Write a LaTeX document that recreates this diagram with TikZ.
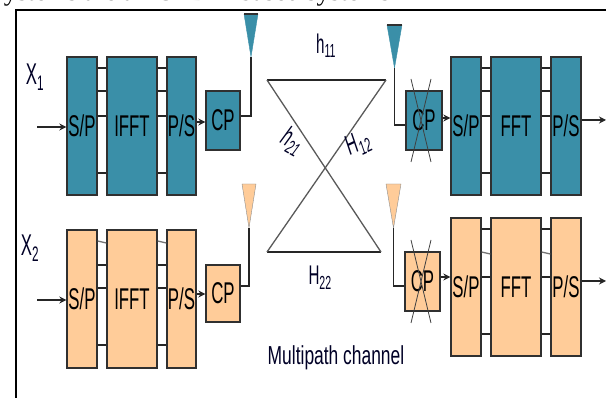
\documentclass[tikz,border=0pt]{standalone}
\usepackage{fontspec}
\setmainfont{Liberation Sans}
\newfontfamily\capfont{Liberation Serif}
\usetikzlibrary{arrows.meta}
\definecolor{tealfill}{HTML}{3A8FA8}
\definecolor{peachfill}{HTML}{FFCC99}
\definecolor{inkline}{HTML}{303030}
\newcommand{\slim}[1]{\scalebox{0.56}[1]{#1}}
\tikzset{
  block/.style={draw=inkline, line width=1.3pt, inner sep=0pt, font=\fontsize{30}{30}\selectfont},
  teal/.style={block, fill=tealfill},
  peach/.style={block, fill=peachfill},
  tall/.style={minimum height=138pt},
  cpbox/.style={minimum width=34pt},
  label/.style={inner sep=0pt, text=black!85!blue, font=\fontsize{30}{30}\selectfont},
  wire/.style={draw=black!85, line width=1.3pt},
  flow/.style={wire, -{Stealth[length=7pt,width=7pt]}},
  cross/.style={draw=black!75, line width=0.8pt},
  path link/.style={draw=black!65, line width=1.3pt}
}
\begin{document}
\begin{tikzpicture}[x=1pt, y=-1pt]
  \useasboundingbox (0,0) rectangle (606,398);
  \clip (0,0) rectangle (606,398);
  \node[anchor=base west, inner sep=0pt, font=\capfont\fontsize{26.5}{26.5}\selectfont] (caption) at (-11,1) {Systems are all OFDM based systems};
  \draw[line width=1.6pt] (16,398) -- (16,10) -- (606,10);

  % transmitter, first branch
  \node[teal, tall, minimum width=30pt] (sp1) at (82,126) {\slim{S/P}};
  \node[teal, tall, minimum width=50pt] (ifft1) at (132,126) {\slim{IFFT}};
  \node[teal, tall, minimum width=29pt] (ps1) at (181.5,126) {\slim{P/S}};
  \node[teal, cpbox, minimum height=59pt] (cp1) at (223,120.5) {\slim{CP}};
  % transmitter, second branch
  \node[peach, tall, minimum width=30pt] (sp2) at (82,299) {\slim{S/P}};
  \node[peach, tall, minimum width=50pt] (ifft2) at (132,299) {\slim{IFFT}};
  \node[peach, tall, minimum width=29pt] (ps2) at (181.5,299) {\slim{P/S}};
  \node[peach, cpbox, minimum height=57pt] (cp2) at (223,293.5) {\slim{CP}};
  % receiver, first branch
  \node[teal, cpbox, minimum width=36pt, minimum height=59pt] (cp3) at (424,120.5) {\slim{CP}};
  \node[teal, tall, minimum width=30pt] (sp3) at (466,126) {\slim{S/P}};
  \node[teal, tall, minimum width=50pt] (fft3) at (516,126) {\slim{FFT}};
  \node[teal, tall, minimum width=30pt] (ps3) at (566,126) {\slim{P/S}};
  % receiver, second branch
  \node[peach, cpbox, minimum width=35pt, minimum height=59pt] (cp4) at (422.5,281.5) {\slim{CP}};
  \node[peach, tall, minimum width=30pt] (sp4) at (466,287) {\slim{S/P}};
  \node[peach, tall, minimum width=50pt] (fft4) at (516,287) {\slim{FFT}};
  \node[peach, tall, minimum width=30pt] (ps4) at (566,287) {\slim{P/S}};

  % parallel lines between the blocks
  \foreach \y in {68,91,116,173} {
    \draw[wire] (sp1.east |- 0,\y) -- (ifft1.west |- 0,\y);
    \draw[wire] (ifft1.east |- 0,\y) -- (ps1.west |- 0,\y);
    \draw[wire] (sp3.east |- 0,\y) -- (fft3.west |- 0,\y);
    \draw[wire] (fft3.east |- 0,\y) -- (ps3.west |- 0,\y);
  }
  \foreach \y in {265,288,345} {
    \draw[wire] (sp2.east |- 0,\y) -- (ifft2.west |- 0,\y);
    \draw[wire] (ifft2.east |- 0,\y) -- (ps2.west |- 0,\y);
  }
  \foreach \y in {229,277,334} {
    \draw[wire] (sp4.east |- 0,\y) -- (fft4.west |- 0,\y);
    \draw[wire] (fft4.east |- 0,\y) -- (ps4.west |- 0,\y);
  }
  \draw[wire, draw=black!55] (sp2.east |- 0,241) -- (ifft2.west |- 0,243);
  \draw[wire, draw=black!55] (ifft2.east |- 0,241) -- (ps2.west |- 0,243);
  \draw[wire, draw=black!55] (sp4.east |- 0,252) -- (fft4.west |- 0,254);
  \draw[wire, draw=black!55] (fft4.east |- 0,252) -- (ps4.west |- 0,254);

  % antennas
  \node[inner sep=0pt] (ant1) at (251,57) {};
  \node[inner sep=0pt] (ant2) at (249,228) {};
  \node[inner sep=0pt] (ant3) at (394.5,68) {};
  \node[inner sep=0pt] (ant4) at (393.5,228) {};
  \draw[fill=tealfill, draw=tealfill] (ant1.center) -- (244,14) -- (258,14) -- cycle;
  \draw[line width=1.4pt, draw=inkline] (244,14) -- (258,14);
  \draw[fill=peachfill, draw=black!45] (ant2.center) -- (242,184) -- (256,184) -- cycle;
  \draw[fill=tealfill, draw=tealfill] (ant3.center) -- (387,25) -- (402,25) -- cycle;
  \draw[line width=1.4pt, draw=inkline] (387,25) -- (402,25);
  \draw[fill=peachfill, draw=black!45] (ant4.center) -- (386,184) -- (401,184) -- cycle;

  % feeds to and from the antennas
  \draw[wire] (cp1.east |- 0,116) -| (ant1.center);
  \draw[wire] (cp2.east |- 0,286) -| (ant2.center);
  \draw[wire] (cp3.west |- 0,125) -| (ant3.center);
  \draw[wire] (cp4.west |- 0,286) -| (ant4.center);

  % signal flow
  \coordinate (in1) at (37,127);
  \coordinate (in2) at (37,300);
  \coordinate (out3) at (606,120);
  \coordinate (out4) at (606,281);
  \draw[flow] (in1) -- (sp1.west |- in1);
  \draw[flow] (in2) -- (sp2.west |- in2);
  \draw[flow] (ps1.east |- 0,122) -- (cp1.west |- 0,122);
  \draw[flow] (ps2.east |- 0,294) -- (cp2.west |- 0,294);
  \draw[flow] (cp3.east |- 0,118) -- (sp3.west |- 0,118);
  \draw[flow] (cp4.east |- 0,277) -- (sp4.west |- 0,277);
  \draw[flow] (ps3.east |- out3) -- (out3);
  \draw[flow] (ps4.east |- out4) -- (out4);

  % removed cyclic prefix
  \draw[cross] (411,79) -- (431,162);
  \draw[cross] (431,79) -- (411,162);
  \draw[cross] (411,240) -- (431,323);
  \draw[cross] (431,240) -- (411,323);

  % multipath channel
  \coordinate (tl) at (267,80);
  \coordinate (tr) at (386,80);
  \coordinate (bl) at (267,252);
  \coordinate (br) at (381,252);
  \draw[path link, draw=black!85] (tl) -- (tr);
  \draw[path link, draw=black!85] (bl) -- (br);
  \draw[path link] (tl) -- (br);
  \draw[path link] (tr) -- (bl);

  \node[label] (x1) at (35,77) {\slim{X\textsubscript{1}}};
  \node[label] (x2) at (30,248) {\slim{X\textsubscript{2}}};
  \node[label, font=\fontsize{27}{27}\selectfont] (h11) at (326,46) {\slim{h\textsubscript{11}}};
  \node[label, font=\fontsize{27}{27}\selectfont] (h22) at (320,278) {\slim{H\textsubscript{22}}};
  \node[label, font=\itshape\fontsize{28}{28}\selectfont, rotate=-30] (h21) at (292,141) {\slim{h\textsubscript{21}}};
  \node[label, font=\itshape\fontsize{28}{28}\selectfont, rotate=25] (h12) at (358,144) {\slim{H\textsubscript{12}}};
  \node[label, font=\fontsize{26}{26}\selectfont] (channel) at (336,358) {\scalebox{0.67}[1]{Multipath channel}};
\end{tikzpicture}
\end{document}
